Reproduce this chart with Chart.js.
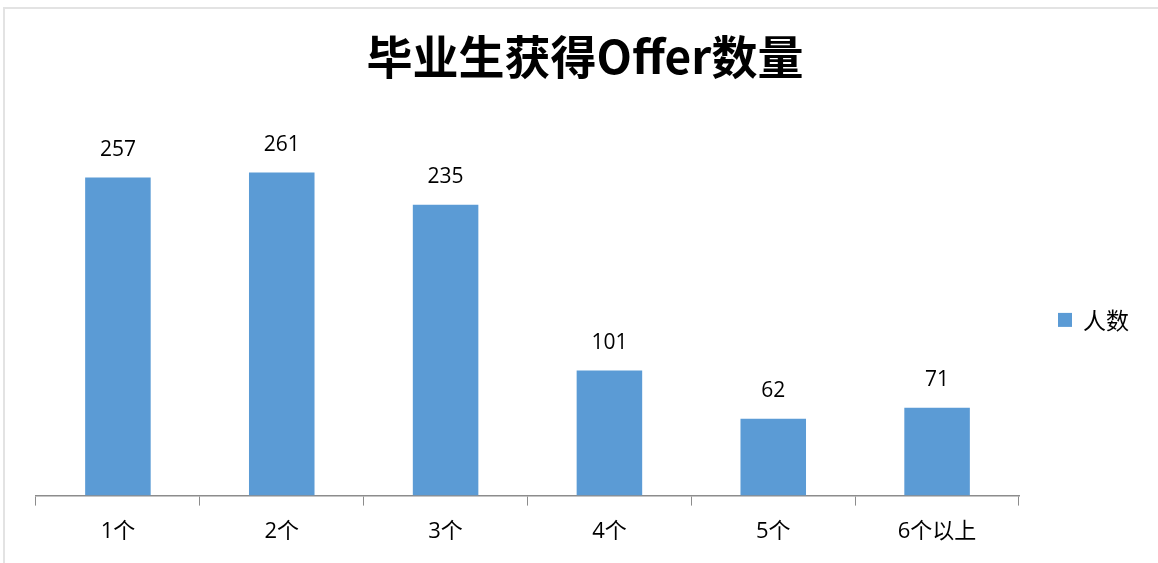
<!DOCTYPE html>
<html lang="zh">
<head>
  <meta charset="utf-8">
  <title>毕业生获得Offer数量</title>
  <script src="https://cdn.jsdelivr.net/npm/chart.js"></script>
  <style>
    body { margin: 0; background: #fff; }
    .frame { position: absolute; left: 3px; top: 7px; width: 1160px; height: 560px;
             border-top: 2px solid #e3e3e3; border-left: 2px solid #e3e3e3; pointer-events: none; }
    canvas { position: absolute; left: 0; top: 0; }
  </style>
</head>
<body>
<canvas id="offerChart" width="1158" height="563"></canvas>
<div class="frame"></div>

<script>
  const categories = ['1个', '2个', '3个', '4个', '5个', '6个以上'];
  const counts = [257, 261, 235, 101, 62, 71];
  const seriesName = '人数';
  const chartTitle = '毕业生获得Offer数量';

  const fontFamily = '"Open Sans", "Noto Sans CJK SC", sans-serif';
  const titleFont = { family: '"Noto Sans CJK SC", sans-serif', size: 46, weight: 'bold' };

  // title centred on the whole canvas, value labels above bars, legend on the right
  const extras = {
    id: 'extras',
    afterDatasetsDraw(chart) {
      const ctx = chart.ctx;
      const area = chart.chartArea;
      const ds = chart.data.datasets[0];
      ctx.save();

      const tb = chart.titleBlock;
      ctx.font = 'bold ' + titleFont.size + 'px ' + titleFont.family;
      ctx.fillStyle = '#000';
      ctx.textAlign = 'center';
      ctx.textBaseline = 'middle';
      ctx.fillText(chartTitle, chart.width / 2 + 6, tb.top + 29 + titleFont.size * 0.6);

      ctx.font = '21px ' + fontFamily;
      ctx.textBaseline = 'bottom';
      chart.getDatasetMeta(0).data.forEach((bar, i) => {
        ctx.fillText(ds.data[i], bar.x, bar.y - 17);
      });

      const lx = area.right + 39;
      const ly = (area.top + area.bottom) / 2 + 10;
      ctx.fillStyle = ds.backgroundColor;
      ctx.fillRect(lx, ly - 7, 14, 14);
      ctx.fillStyle = '#000';
      ctx.font = '23px "Noto Sans CJK SC", serif';
      ctx.textAlign = 'left';
      ctx.textBaseline = 'middle';
      ctx.fillText(ds.label, lx + 25, ly);
      ctx.restore();
    }
  };

  new Chart(document.getElementById('offerChart').getContext('2d'), {
    type: 'bar',
    data: {
      labels: categories,
      datasets: [{
        label: seriesName,
        data: counts,
        backgroundColor: '#5B9BD5',
        borderWidth: 0,
        barPercentage: 0.8,
        categoryPercentage: 0.5
      }]
    },
    options: {
      responsive: false,
      animation: false,
      layout: { padding: { left: 36, right: 139, top: 0, bottom: 5 } },
      scales: {
        x: {
          grid: { display: true, drawOnChartArea: false, drawTicks: true, tickLength: 10, color: '#8c8c8c', offset: true },
          border: { display: true, color: '#8c8c8c', width: 1.5 },
          ticks: { color: '#000', font: { family: fontFamily, size: 22 }, padding: 13 }
        },
        y: {
          display: false,
          min: 0,
          max: 300
        }
      },
      plugins: {
        title: {
          // drawn by the extras plugin; kept here to reserve the space
          display: true,
          text: chartTitle,
          color: 'rgba(0,0,0,0)',
          font: titleFont,
          padding: { top: 29, bottom: 40 }
        },
        legend: { display: false },
        tooltip: { enabled: false }
      }
    },
    plugins: [extras]
  });
</script>
</body>
</html>
